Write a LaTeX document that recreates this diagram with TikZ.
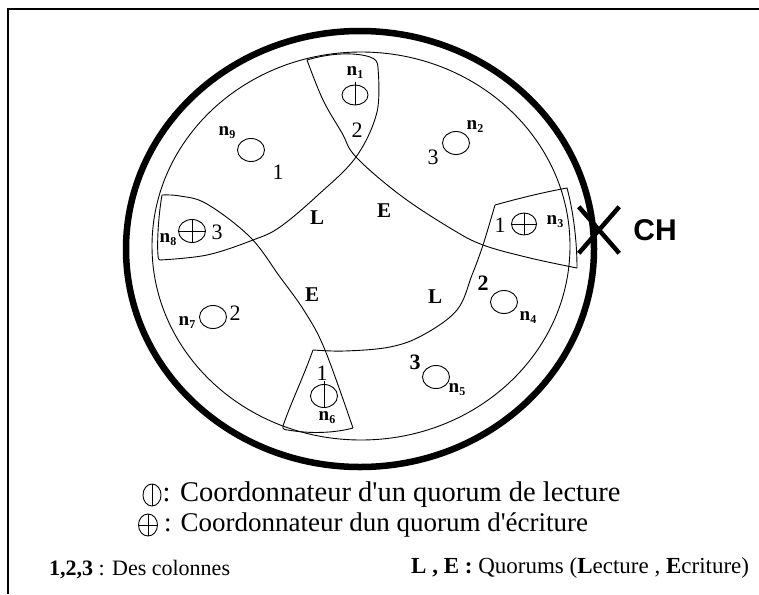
\documentclass[tikz,border=0pt]{standalone}
\usepackage{fontspec}
\setmainfont{Liberation Serif}
\newfontfamily\chfont{Liberation Sans}
\usetikzlibrary{positioning,shapes.geometric,shapes.misc}
\newcommand{\fsz}[1]{\fontsize{#1}{#1}\selectfont}
\newcommand{\nlab}[1]{\textbf{n}\raisebox{-3pt}{\fsz{12}\textbf{#1}}}
\tikzset{
  member/.style={draw, ellipse, line width=0.9pt, minimum width=27pt, minimum height=23pt, inner sep=0pt},
  readco/.style={member},
  writeco/.style={member, path picture={\draw[line width=0.9pt]
      (path picture bounding box.north) -- (path picture bounding box.south)
      (path picture bounding box.west) -- (path picture bounding box.east);}},
  colnum/.style={font=\fsz{22}, inner sep=0pt},
  colbold/.style={colnum, font=\fsz{22}\bfseries},
  quorum/.style={font=\fsz{21}\bfseries, inner sep=0pt},
  sitename/.style={inner sep=0pt, font=\fsz{19}},
  wire/.style={line width=0.9pt},
  legend/.style={font=\fsz{27}, inner sep=0pt},
}
\begin{document}
\begin{tikzpicture}[x=1pt, y=-1pt]
\useasboundingbox (0,0) rectangle (759,594);
% frame
\draw[line width=1.6pt] (8,594) -- (8,9) -- (759,9);
% rings
\draw[line width=6.5pt] (360,249) ellipse [x radius=234pt, y radius=218pt];
\draw[wire] (361,246) ellipse [x radius=209pt, y radius=194pt];

% quorum boundaries
\draw[wire] plot[smooth, tension=0.6] coordinates {(307,60) (323,100) (342,133) (356,157) (400,195) (450,228) (483,245) (530,258) (577,268)};
\draw[wire] plot[smooth, tension=0.6] coordinates {(378,68) (377,112) (356,157) (318,195) (280,227) (253,240) (207,255) (160,260)};
\draw[wire] plot[smooth, tension=0.6] coordinates {(162,195) (180,196) (207,204) (250,237) (280,277) (305,312) (325,350) (353,428)};
\draw[wire] plot[smooth, tension=0.6] coordinates {(495,205) (483,245) (472,275) (457,310) (423,335) (390,347) (345,351) (313,350)};
% outer sides of the coordinator cells
\draw[wire] (307,60) .. controls (330,53) and (355,52) .. (370,57) .. controls (376,59) and (378,62) .. (378,68);
\draw[wire] (162,195) .. controls (158,218) and (157,245) .. (158,255) .. controls (158,259) and (159,260) .. (160,260);
\draw[wire] (495,205) .. controls (520,198) and (545,192) .. (567,188) .. controls (573,210) and (577,240) .. (577,268);
\draw[wire] (313,350) .. controls (303,378) and (290,405) .. (283,426) .. controls (282,429) and (285,430) .. (288,430) .. controls (310,434) and (335,433) .. (353,428);

% sites
\foreach \s/\x/\y in {n9/251/150, n2/456/143, n7/213/317, n4/504/302, n5/436/377}
  \node[member] (\s) at (\x,\y) {};
\node[readco, minimum width=26pt, minimum height=20pt] (n1) at (355,95) {};
\node[readco] (n6) at (324,396) {};
\node[writeco] (n8) at (192,231) {};
\node[writeco, minimum width=25pt, minimum height=22pt] (n3) at (524,224) {};
\foreach \s in {n1, n6}
  \draw[wire] ([yshift=3pt]\s.north) -- (\s.south);

% site names
\foreach \k/\x/\y in {1/355/73, 2/475/127, 3/555/222, 4/528/318, 5/457/390, 6/327/418, 7/187/323, 8/168/240, 9/227/133}
  \node[sitename] (lab\k) at (\x,\y) {\nlab{\k}};

% columns
\foreach \c/\x/\y [count=\i] in {2/357/130, 1/278/172, 3/433/157, 3/217/232, 1/500/225, 2/235/313, 1/322/373}
  \node[colnum] (col\i) at (\x,\y) {\c};
\node[colbold] (col8) at (483,283) {2};
\node[colbold] (col9) at (415,362) {3};

% quorums
\node[quorum] (qL1) at (317,218) {L};
\node[quorum] (qE1) at (384,211) {E};
\node[quorum] (qE2) at (312,295) {E};
\node[quorum] (qL2) at (435,297) {L};

% cluster head
\node[draw, cross out, line width=4.5pt, minimum width=36pt, minimum height=42pt, inner sep=0pt] (chx) at (599,230) {};
\node[font=\chfont\bfseries\fsz{30}, inner sep=0pt, right=14pt of chx] (ch) {CH};

% legend
\node[readco, minimum width=18pt, minimum height=22pt] (keyrd) at (152,495) {};
\draw[wire] (keyrd.north) -- (keyrd.south);
\node[legend, font=\fsz{28.5}, right=1pt of keyrd] (keyrdtxt) {: Coordonnateur d\textquotesingle un quorum de lecture};
\node[writeco, minimum width=19pt, minimum height=22pt] (keywr) at (148,525) {};
\node[legend, right=6pt of keywr] (keywrtxt) {: Coordonnateur dun quorum d\textquotesingle écriture};
\node[legend, font=\fsz{22}, anchor=west] (keycol) at (49,570) {\textbf{1,2,3} : Des colonnes};
\node[legend, font=\fsz{23}, anchor=west] (keyq) at (411,568) {\textbf{L , E :} Quorums (\textbf{L}ecture , \textbf{E}criture)};
\end{tikzpicture}
\end{document}
